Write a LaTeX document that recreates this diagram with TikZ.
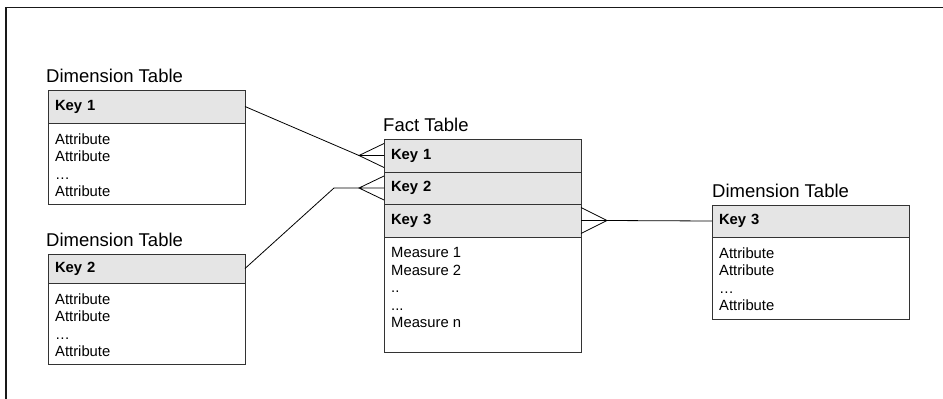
\documentclass[tikz,border=0pt]{standalone}
\usepackage{fontspec}
\setmainfont{Liberation Sans}
\usepackage{tikz}
\usetikzlibrary{positioning}

\begin{document}
\begin{tikzpicture}[x=1pt, y=-1pt,
  tabtitle/.style={font=\fontsize{18.5}{21}\selectfont, anchor=base west, inner sep=0pt},
  keyrow/.style={draw=black!80, fill=black!10, line width=0.8pt, anchor=north west, minimum width=197pt, text width=183pt, align=left, inner xsep=7pt, inner ysep=0pt, outer sep=0pt, font=\fontsize{14.8}{17.5}\selectfont\bfseries},
  tabbody/.style={draw=black!80, fill=white, line width=0.8pt, minimum width=197pt, inner sep=0pt, outer sep=0pt},
  rows/.style={font=\fontsize{14.8}{17.5}\selectfont, align=left, anchor=north west, inner sep=0pt},
  link/.style={line width=0.8pt}]
  \useasboundingbox (0,0) rectangle (943,399);
  % frame, cut off by the right and bottom edges
  \draw[line width=1.8pt, black!90] (943,7.5) -- (6,7.5) -- (6,399);

  % dimension table, key 1
  \node[keyrow, minimum height=33pt] (dim1key) at (48,90) {Key 1};
  \node[tabbody, minimum height=81pt, below=0pt of dim1key] (dim1body) {};
  \node[rows] (dim1rows) at ([xshift=7pt,yshift=-10.5pt]dim1body.north west) {Attribute\\Attribute\\…\\Attribute};
  \node[tabtitle] (dim1title) at ([xshift=-2pt,yshift=7.5pt]dim1key.north west) {Dimension Table};

  % dimension table, key 2
  \node[keyrow, minimum height=29pt] (dim2key) at (48,254) {Key 2};
  \node[tabbody, minimum height=81pt, below=0pt of dim2key] (dim2body) {};
  \node[rows] (dim2rows) at ([xshift=7pt,yshift=-10.5pt]dim2body.north west) {Attribute\\Attribute\\…\\Attribute};
  \node[tabtitle] (dim2title) at ([xshift=-2pt,yshift=7.5pt]dim2key.north west) {Dimension Table};

  % fact table
  \node[keyrow, minimum height=33pt] (fkey1) at (384,139) {Key 1};
  \node[keyrow, minimum height=32pt, below=0pt of fkey1] (fkey2) {Key 2};
  \node[keyrow, minimum height=33pt, below=0pt of fkey2] (fkey3) {Key 3};
  \node[tabbody, minimum height=115pt, below=0pt of fkey3] (fbody) {};
  \node[rows] (frows) at ([xshift=7pt,yshift=-10.5pt]fbody.north west) {Measure 1\\Measure 2\\..\\...\\Measure n};
  \node[tabtitle] (ftitle) at ([xshift=-1pt,yshift=7.5pt]fkey1.north west) {Fact Table};

  % dimension table, key 3
  \node[keyrow, minimum height=32pt] (dim3key) at (712,205) {Key 3};
  \node[tabbody, minimum height=82pt, below=0pt of dim3key] (dim3body) {};
  \node[rows] (dim3rows) at ([xshift=7pt,yshift=-10.5pt]dim3body.north west) {Attribute\\Attribute\\…\\Attribute};
  \node[tabtitle] (dim3title) at ([yshift=7.5pt]dim3key.north west) {Dimension Table};

  % crow's feet and links
  \coordinate (foot1) at ([xshift=-25pt]fkey1.west);
  \coordinate (foot2) at ([xshift=-25pt]fkey2.west);
  \coordinate (bend2) at ([xshift=-50pt]fkey2.west);
  \coordinate (foot3) at ([xshift=26pt]fkey3.east);
  \draw[link] (dim1key.east) -- (foot1);
  \draw[link] ([yshift=12pt]fkey1.west) -- (foot1) -- ([yshift=-12pt]fkey1.west) (foot1) -- (fkey1.west);
  \draw[link] (dim2key.east) -- (bend2) -- (foot2);
  \draw[link] ([yshift=12pt]fkey2.west) -- (foot2) -- ([yshift=-12pt]fkey2.west) (foot2) -- (fkey2.west);
  \draw[link] ([yshift=13pt]fkey3.east) -- (foot3) -- ([yshift=-13pt]fkey3.east) (fkey3.east) -- (foot3);
  \draw[link] (foot3) -- (dim3key.west);
\end{tikzpicture}
\end{document}
